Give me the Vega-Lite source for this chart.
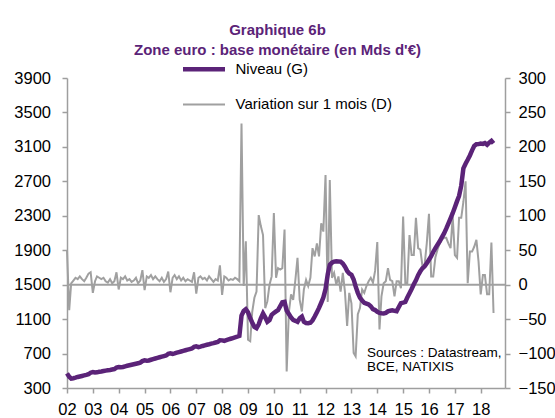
{
  "$schema": "https://vega.github.io/schema/vega-lite/v6.json",
  "width": 438,
  "height": 310,
  "autosize": {"type": "none"},
  "padding": {"left": 67, "top": 78, "right": 50, "bottom": 30},
  "background": "white",
  "config": {
    "font": "Liberation Sans",
    "view": {"stroke": null},
    "axis": {
      "grid": false,
      "domainColor": "#9E9E9E",
      "domainWidth": 1.5,
      "tickColor": "#9E9E9E",
      "tickWidth": 1.5,
      "tickSize": 5,
      "labelFont": "Liberation Sans",
      "labelFontSize": 16.5,
      "labelColor": "#000000",
      "labelOverlap": false,
      "title": null
    }
  },
  "title": {
    "text": ["Graphique 6b", "Zone euro : base monétaire (en Mds d'€)"],
    "font": "Liberation Sans",
    "fontSize": 15,
    "fontWeight": "bold",
    "color": "#5B2378",
    "anchor": "middle",
    "frame": "group",
    "dx": -8.5,
    "lineHeight": 20,
    "offset": 4
  },
  "datasets": {
    "series": [
      {"d":"2002-01-01","n":470,"v":50},{"d":"2002-02-01","n":430,"v":-37},{"d":"2002-03-01","n":410,"v":2},{"d":"2002-04-01","n":414,"v":6},{"d":"2002-05-01","n":420,"v":10},{"d":"2002-06-01","n":428,"v":8},{"d":"2002-07-01","n":434,"v":12},{"d":"2002-08-01","n":440,"v":8},{"d":"2002-09-01","n":446,"v":5},{"d":"2002-10-01","n":452,"v":10},{"d":"2002-11-01","n":460,"v":16},{"d":"2002-12-01","n":478,"v":18},
      {"d":"2003-01-01","n":486,"v":-12},{"d":"2003-02-01","n":480,"v":5},{"d":"2003-03-01","n":482,"v":12},{"d":"2003-04-01","n":488,"v":10},{"d":"2003-05-01","n":492,"v":8},{"d":"2003-06-01","n":497,"v":10},{"d":"2003-07-01","n":502,"v":5},{"d":"2003-08-01","n":506,"v":3},{"d":"2003-09-01","n":510,"v":8},{"d":"2003-10-01","n":515,"v":2},{"d":"2003-11-01","n":520,"v":5},{"d":"2003-12-01","n":536,"v":18},
      {"d":"2004-01-01","n":544,"v":-7},{"d":"2004-02-01","n":540,"v":10},{"d":"2004-03-01","n":544,"v":8},{"d":"2004-04-01","n":552,"v":12},{"d":"2004-05-01","n":558,"v":6},{"d":"2004-06-01","n":564,"v":8},{"d":"2004-07-01","n":570,"v":4},{"d":"2004-08-01","n":576,"v":6},{"d":"2004-09-01","n":582,"v":10},{"d":"2004-10-01","n":588,"v":2},{"d":"2004-11-01","n":594,"v":6},{"d":"2004-12-01","n":612,"v":21},
      {"d":"2005-01-01","n":621,"v":-8},{"d":"2005-02-01","n":616,"v":12},{"d":"2005-03-01","n":620,"v":10},{"d":"2005-04-01","n":628,"v":14},{"d":"2005-05-01","n":636,"v":8},{"d":"2005-06-01","n":643,"v":12},{"d":"2005-07-01","n":650,"v":8},{"d":"2005-08-01","n":657,"v":5},{"d":"2005-09-01","n":664,"v":10},{"d":"2005-10-01","n":671,"v":4},{"d":"2005-11-01","n":678,"v":8},{"d":"2005-12-01","n":696,"v":19},
      {"d":"2006-01-01","n":702,"v":-11},{"d":"2006-02-01","n":696,"v":10},{"d":"2006-03-01","n":702,"v":14},{"d":"2006-04-01","n":710,"v":8},{"d":"2006-05-01","n":717,"v":12},{"d":"2006-06-01","n":724,"v":6},{"d":"2006-07-01","n":731,"v":10},{"d":"2006-08-01","n":738,"v":5},{"d":"2006-09-01","n":745,"v":8},{"d":"2006-10-01","n":752,"v":6},{"d":"2006-11-01","n":759,"v":4},{"d":"2006-12-01","n":777,"v":18},
      {"d":"2007-01-01","n":783,"v":-13},{"d":"2007-02-01","n":775,"v":10},{"d":"2007-03-01","n":780,"v":12},{"d":"2007-04-01","n":788,"v":8},{"d":"2007-05-01","n":795,"v":10},{"d":"2007-06-01","n":802,"v":6},{"d":"2007-07-01","n":808,"v":12},{"d":"2007-08-01","n":815,"v":8},{"d":"2007-09-01","n":821,"v":4},{"d":"2007-10-01","n":828,"v":8},{"d":"2007-11-01","n":834,"v":6},{"d":"2007-12-01","n":855,"v":28},
      {"d":"2008-01-01","n":853,"v":-15},{"d":"2008-02-01","n":848,"v":12},{"d":"2008-03-01","n":856,"v":10},{"d":"2008-04-01","n":864,"v":6},{"d":"2008-05-01","n":872,"v":8},{"d":"2008-06-01","n":880,"v":7},{"d":"2008-07-01","n":888,"v":10},{"d":"2008-08-01","n":896,"v":8},{"d":"2008-09-01","n":905,"v":5},{"d":"2008-10-01","n":1140,"v":234},{"d":"2008-11-01","n":1195,"v":-2},{"d":"2008-12-01","n":1215,"v":63},
      {"d":"2009-01-01","n":1180,"v":-80},{"d":"2009-02-01","n":1110,"v":-82},{"d":"2009-03-01","n":1060,"v":-40},{"d":"2009-04-01","n":1010,"v":-19},{"d":"2009-05-01","n":995,"v":-10},{"d":"2009-06-01","n":1040,"v":101},{"d":"2009-07-01","n":1110,"v":85},{"d":"2009-08-01","n":1165,"v":72},{"d":"2009-09-01","n":1120,"v":-34},{"d":"2009-10-01","n":1070,"v":-24},{"d":"2009-11-01","n":1090,"v":0},{"d":"2009-12-01","n":1150,"v":12},
      {"d":"2010-01-01","n":1170,"v":104},{"d":"2010-02-01","n":1190,"v":10},{"d":"2010-03-01","n":1205,"v":24},{"d":"2010-04-01","n":1250,"v":22},{"d":"2010-05-01","n":1295,"v":24},{"d":"2010-06-01","n":1300,"v":80},{"d":"2010-07-01","n":1200,"v":-126},{"d":"2010-08-01","n":1160,"v":-40},{"d":"2010-09-01","n":1120,"v":-14},{"d":"2010-10-01","n":1090,"v":-22},{"d":"2010-11-01","n":1080,"v":7},{"d":"2010-12-01","n":1068,"v":39},
      {"d":"2011-01-01","n":1110,"v":-22},{"d":"2011-02-01","n":1130,"v":-39},{"d":"2011-03-01","n":1070,"v":-7},{"d":"2011-04-01","n":1055,"v":7},{"d":"2011-05-01","n":1052,"v":-2},{"d":"2011-06-01","n":1058,"v":10},{"d":"2011-07-01","n":1085,"v":53},{"d":"2011-08-01","n":1130,"v":41},{"d":"2011-09-01","n":1180,"v":60},{"d":"2011-10-01","n":1230,"v":41},{"d":"2011-11-01","n":1290,"v":89},{"d":"2011-12-01","n":1350,"v":77},
      {"d":"2012-01-01","n":1450,"v":159},{"d":"2012-02-01","n":1620,"v":-25},{"d":"2012-03-01","n":1730,"v":152},{"d":"2012-04-01","n":1755,"v":10},{"d":"2012-05-01","n":1768,"v":17},{"d":"2012-06-01","n":1772,"v":0},{"d":"2012-07-01","n":1770,"v":12},{"d":"2012-08-01","n":1768,"v":-10},{"d":"2012-09-01","n":1745,"v":17},{"d":"2012-10-01","n":1710,"v":-10},{"d":"2012-11-01","n":1660,"v":-60},{"d":"2012-12-01","n":1630,"v":-12},
      {"d":"2013-01-01","n":1615,"v":-27},{"d":"2013-02-01","n":1560,"v":-99},{"d":"2013-03-01","n":1480,"v":-104},{"d":"2013-04-01","n":1405,"v":-43},{"d":"2013-05-01","n":1350,"v":-34},{"d":"2013-06-01","n":1315,"v":-7},{"d":"2013-07-01","n":1290,"v":-12},{"d":"2013-08-01","n":1280,"v":-2},{"d":"2013-09-01","n":1270,"v":5},{"d":"2013-10-01","n":1250,"v":10},{"d":"2013-11-01","n":1215,"v":3},{"d":"2013-12-01","n":1205,"v":20},
      {"d":"2014-01-01","n":1185,"v":62},{"d":"2014-02-01","n":1172,"v":-65},{"d":"2014-03-01","n":1168,"v":-17},{"d":"2014-04-01","n":1165,"v":2},{"d":"2014-05-01","n":1172,"v":5},{"d":"2014-06-01","n":1190,"v":24},{"d":"2014-07-01","n":1198,"v":7},{"d":"2014-08-01","n":1202,"v":5},{"d":"2014-09-01","n":1196,"v":-17},{"d":"2014-10-01","n":1192,"v":5},{"d":"2014-11-01","n":1240,"v":5},{"d":"2014-12-01","n":1285,"v":-5},
      {"d":"2015-01-01","n":1292,"v":99},{"d":"2015-02-01","n":1300,"v":2},{"d":"2015-03-01","n":1350,"v":2},{"d":"2015-04-01","n":1400,"v":72},{"d":"2015-05-01","n":1450,"v":43},{"d":"2015-06-01","n":1505,"v":43},{"d":"2015-07-01","n":1550,"v":97},{"d":"2015-08-01","n":1610,"v":53},{"d":"2015-09-01","n":1655,"v":51},{"d":"2015-10-01","n":1690,"v":27},{"d":"2015-11-01","n":1713,"v":29},{"d":"2015-12-01","n":1750,"v":60},
      {"d":"2016-01-01","n":1790,"v":103},{"d":"2016-02-01","n":1830,"v":12},{"d":"2016-03-01","n":1880,"v":12},{"d":"2016-04-01","n":1925,"v":40},{"d":"2016-05-01","n":1965,"v":51},{"d":"2016-06-01","n":2003,"v":60},{"d":"2016-07-01","n":2050,"v":65},{"d":"2016-08-01","n":2095,"v":68},{"d":"2016-09-01","n":2150,"v":68},{"d":"2016-10-01","n":2210,"v":60},{"d":"2016-11-01","n":2270,"v":53},{"d":"2016-12-01","n":2330,"v":99},
      {"d":"2017-01-01","n":2400,"v":43},{"d":"2017-02-01","n":2470,"v":39},{"d":"2017-03-01","n":2530,"v":97},{"d":"2017-04-01","n":2650,"v":97},{"d":"2017-05-01","n":2850,"v":120},{"d":"2017-06-01","n":2905,"v":150},{"d":"2017-07-01","n":2950,"v":2},{"d":"2017-08-01","n":3000,"v":48},{"d":"2017-09-01","n":3060,"v":48},{"d":"2017-10-01","n":3110,"v":55},{"d":"2017-11-01","n":3130,"v":65},{"d":"2017-12-01","n":3132,"v":34},
      {"d":"2018-01-01","n":3138,"v":-14},{"d":"2018-02-01","n":3135,"v":14},{"d":"2018-03-01","n":3145,"v":14},{"d":"2018-04-01","n":3125,"v":-14},{"d":"2018-05-01","n":3150,"v":-14},{"d":"2018-06-01","n":3170,"v":61},{"d":"2018-07-01","n":3140,"v":-41}
    ],
    "single": [{"k": 1}]
  },
  "layer": [
    {
      "layer": [
        {
          "data": {"name": "single"},
          "mark": {"type": "rule", "color": "#A0A0A0", "strokeWidth": 2},
          "encoding": {"y": {"datum": 0, "type": "quantitative"}}
        },
        {
          "data": {"name": "series"},
          "mark": {"type": "line", "strokeWidth": 2},
          "encoding": {
            "x": {
              "field": "d", "type": "temporal",
              "scale": {"type": "utc", "domain": [{"year": 2002, "month": 1, "date": 1, "utc": true}, {"year": 2018, "month": 12, "date": 10, "utc": true}]},
              "axis": {"orient": "bottom", "labelExpr": "utcFormat(datum.value, '%y')", "tickCount": {"interval": "year", "step": 1}, "labelPadding": 8, "labelAngle": 0, "labelFlush": false, "labelOverlap": false}
            },
            "y": {
              "field": "v", "type": "quantitative",
              "scale": {"domain": [-150, 300], "nice": false, "zero": false},
              "axis": {"orient": "right", "values": [-150, -100, -50, 0, 50, 100, 150, 200, 250, 300], "tickCount": 20, "format": "d", "labelPadding": 8, "labelOverlap": false, "labelFlush": false}
            },
            "color": {
              "datum": "Variation sur 1 mois (D)",
              "type": "nominal",
              "scale": {"domain": ["Niveau (G)", "Variation sur 1 mois (D)"], "range": ["#5B2378", "#A0A0A0"]},
              "legend": {
                "orient": "none",
                "legendX": 129.5,
                "legendY": -16.3,
                "direction": "vertical",
                "title": null,
                "padding": 0,
                "symbolType": "M-2,0L2,0",
                "symbolSize": 441,
                "labelOffset": 24,
                "labelFont": "Liberation Sans",
                "labelFontSize": 15,
                "labelColor": "#000000",
                "labelLimit": 400,
                "rowPadding": 18.2,
                "encode": {"symbols": {"update": {"strokeWidth": {"signal": "datum.value == 'Niveau (G)' ? 4.5 : 2"}}}}
              }
            }
          }
        }
      ]
    },
    {
      "layer": [
        {
          "data": {"name": "series"},
          "mark": {"type": "line", "strokeWidth": 4.5},
          "encoding": {
            "x": {"field": "d", "type": "temporal"},
            "y": {
              "field": "n", "type": "quantitative",
              "scale": {"domain": [300, 3900], "nice": false, "zero": false},
              "axis": {"orient": "left", "values": [300, 700, 1100, 1500, 1900, 2300, 2700, 3100, 3500, 3900], "tickCount": 20, "format": "d", "labelPadding": 11.5, "labelOverlap": false, "labelFlush": false}
            },
            "color": {
              "datum": "Niveau (G)",
              "type": "nominal",
              "scale": {"domain": ["Niveau (G)", "Variation sur 1 mois (D)"], "range": ["#5B2378", "#A0A0A0"]}
            }
          }
        },
        {
          "data": {"name": "single"},
          "mark": {"type": "text", "align": "left", "baseline": "alphabetic", "fontSize": 13.5, "lineBreak": "\n", "lineHeight": 14.4, "color": "#000000", "font": "Liberation Sans"},
          "encoding": {
            "x": {"datum": {"year": 2013, "month": 8, "date": 10, "utc": true}, "type": "temporal"},
            "y": {"datum": 661, "type": "quantitative"},
            "text": {"value": "Sources : Datastream,\nBCE, NATIXIS"}
          }
        }
      ]
    }
  ],
  "resolve": {"scale": {"y": "independent"}}
}
